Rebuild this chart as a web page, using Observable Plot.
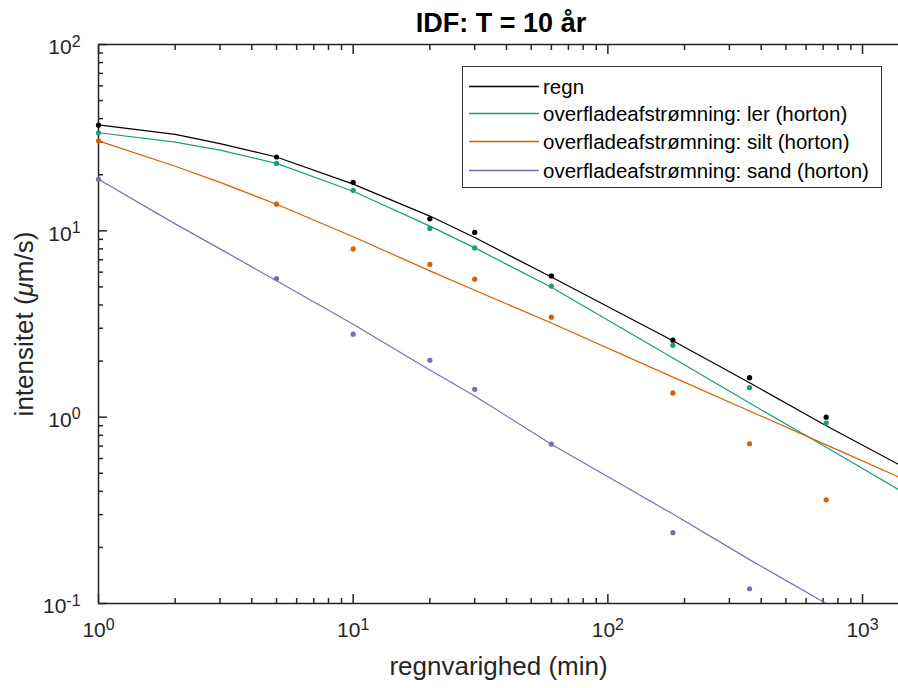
<!DOCTYPE html>
<html>
<head>
<meta charset="utf-8">
<script src="https://cdn.jsdelivr.net/npm/d3@7"></script>
<script src="https://cdn.jsdelivr.net/npm/@observablehq/plot@0.6"></script>
<style>
  html, body { margin: 0; padding: 0; background: #fff; }
  #wrap { position: relative; width: 898px; height: 688px; overflow: hidden; font-family: "Liberation Sans", Arial, sans-serif; color: #000; }
  #title { position: relative; height: 36px; }
  #title span { position: absolute; left: 98px; width: 806px; top: 10px; text-align: center; font-weight: bold; font-size: 27px; line-height: 27px; }
  #chart svg { display: block; }
  #legend { position: absolute; left: 462px; top: 66px; width: 420px; height: 122px; box-sizing: border-box; border: 1px solid #333; background: #fff; }
  #legend svg { display: block; }
</style>
</head>
<body>
<div id="wrap">
  <div id="title"><span>IDF: T = 10 år</span></div>
  <div id="chart"></div>
  <div id="legend"></div>
</div>
<script>
// ---- data ----
const seriesNames = ["regn", "overfladeafstrømning: ler (horton)", "overfladeafstrømning: silt (horton)", "overfladeafstrømning: sand (horton)"];
const seriesColors = ["#000000", "#1b9e77", "#d95f02", "#7570b3"];

// model curves
const curveDur = [1, 2, 3, 5, 10, 20, 30, 60, 180, 360, 720, 1440];
const regnCurve = [37.0, 32.9, 29.4, 24.9, 17.8, 12.0, 9.2, 5.65, 2.57, 1.53, 0.90, 0.542];
const lerCurve  = [33.6, 29.9, 27.1, 23.0, 16.3, 10.6, 8.1, 4.98, 2.08, 1.19, 0.69, 0.396];
const siltCurve = [30.4, 22.2, 18.2, 13.9, 9.3, 6.1, 4.8, 3.2, 1.64, 1.08, 0.71, 0.467];
const sandCurve = [18.9, 10.9, 8.0, 5.39, 3.15, 1.79, 1.30, 0.716, 0.302, 0.172, 0.100, 0.057];

// observed points
const obsDur = [1, 5, 10, 20, 30, 60, 180, 360, 720];
const regnObs = [36.9, 24.9, 18.2, 11.6, 9.8, 5.73, 2.59, 1.63, 1.0];
const lerObs  = [33.6, 23.0, 16.5, 10.3, 8.1, 5.05, 2.43, 1.44, 0.93];
const siltObs = [30.4, 13.9, 8.0, 6.6, 5.5, 3.44, 1.35, 0.72, 0.36];
const sandObs = [18.9, 5.55, 2.79, 2.02, 1.41, 0.716, 0.240, 0.12, null];

// axes
const xMajor = [1, 10, 100, 1000];
const xMajorLabels = ["10^0", "10^1", "10^2", "10^3"];
const yMajor = [0.1, 1, 10, 100];
const yMajorLabels = ["10^-1", "10^0", "10^1", "10^2"];
const minorMultipliers = [2, 3, 4, 5, 6, 7, 8, 9];
const xMinor = [1, 10, 100, 1000].flatMap(d => minorMultipliers.map(m => m * d)).filter(v => v < 1384);
const yMinor = [0.1, 1, 10].flatMap(d => minorMultipliers.map(m => +(m * d).toPrecision(3)));

const xLabel = "regnvarighed (min)";
const yLabel = "intensitet (µm/s)";

// ---- tables ----
const curveSets = [regnCurve, lerCurve, siltCurve, sandCurve];
const obsSets = [regnObs, lerObs, siltObs, sandObs];
const curves = seriesNames.flatMap((name, i) => curveDur.map((d, j) => ({name, x: d, y: curveSets[i][j]})));
const points = seriesNames.flatMap((name, i) => obsDur.map((d, j) => ({name, x: d, y: obsSets[i][j]}))).filter(p => p.y != null);

const axisColor = "#262626";
const fmtX = d => xMajorLabels[xMajor.indexOf(d)];
const fmtY = d => yMajorLabels[yMajor.findIndex(v => Math.abs(v - d) < 1e-9)];

const chart = Plot.plot({
  width: 898,
  height: 652,
  marginLeft: 98,
  marginRight: 0,
  marginTop: 8,
  marginBottom: 85,
  style: {fontFamily: "'Liberation Sans', Arial, sans-serif", fontSize: "21px", color: axisColor, background: "#fff", overflow: "visible"},
  x: {type: "log", domain: [1, 1384]},
  y: {type: "log", domain: [0.1, 100]},
  color: {domain: seriesNames, range: seriesColors},
  marks: [
    // frame lines
    Plot.ruleX([1], {stroke: axisColor, strokeWidth: 1.5}),
    Plot.ruleY([0.1], {stroke: axisColor, strokeWidth: 1.5}),
    Plot.ruleY([100], {stroke: axisColor, strokeWidth: 1.5}),
    // ticks (inward)
    Plot.axisX(xMajor, {anchor: "bottom", tickSize: -9, tickFormat: () => "", label: null, stroke: axisColor, strokeWidth: 1.5}),
    Plot.axisX(xMinor, {anchor: "bottom", tickSize: -5, tickFormat: () => "", label: null, stroke: axisColor, strokeWidth: 1.5}),
    Plot.axisX(xMajor, {anchor: "top", tickSize: -9, tickFormat: () => "", label: null, stroke: axisColor, strokeWidth: 1.5}),
    Plot.axisX(xMinor, {anchor: "top", tickSize: -5, tickFormat: () => "", label: null, stroke: axisColor, strokeWidth: 1.5}),
    Plot.axisY(yMajor, {anchor: "left", tickSize: -9, tickFormat: () => "", label: null, stroke: axisColor, strokeWidth: 1.5}),
    Plot.axisY(yMinor, {anchor: "left", tickSize: -5, tickFormat: () => "", label: null, stroke: axisColor, strokeWidth: 1.5}),
    // tick labels + axis labels
    Plot.axisX(xMajor, {anchor: "bottom", tickSize: 0, tickPadding: 19, tickFormat: fmtX, label: xLabel, labelAnchor: "center", labelArrow: "none", labelOffset: 71, fill: axisColor}),
    Plot.axisY(yMajor, {anchor: "left", tickSize: 0, tickPadding: 18, dy: 3, tickFormat: fmtY, label: yLabel, labelAnchor: "center", labelArrow: "none", labelOffset: 84, fill: axisColor}),
    // data
    Plot.line(curves, {x: "x", y: "y", z: "name", stroke: "name", strokeWidth: 1.2, clip: true}),
    Plot.dot(points, {x: "x", y: "y", fill: "name", r: 2.6})
  ]
});
document.getElementById("chart").appendChild(chart);

// superscript exponents in tick labels
const svg = d3.select(chart);
svg.selectAll('g[aria-label="x-axis tick label"] text, g[aria-label="y-axis tick label"] text').each(function() {
  const t = d3.select(this);
  const s = t.text();
  const parts = s.split("^");
  if (parts.length !== 2) return;
  t.text(null);
  t.append("tspan").text(parts[0]);
  t.append("tspan").attr("dy", "-0.48em").attr("font-size", "0.76em").text(parts[1]);
});
// axis labels size and italic mu
svg.selectAll('g[aria-label="x-axis label"] text').attr("font-size", 26).style("font-size", "26px");
svg.selectAll('g[aria-label="y-axis label"] text').each(function() {
  const t = d3.select(this);
  const s = t.text().replace(/[↑↓→←]\s*/g, "");
  t.style("font-size", "26px");
  const k = s.indexOf("µ");
  if (k < 0) { t.text(s); return; }
  t.text(null);
  t.append("tspan").text(s.slice(0, k));
  t.append("tspan").attr("font-style", "italic").text("μ");
  t.append("tspan").text(s.slice(k + 1));
});

// legend (inline SVG inside a bordered box)
const legendRowY = [19.5, 46.5, 74.5, 103.5];
const lsvg = d3.select("#legend").append("svg").attr("width", 418).attr("height", 120)
  .style("font-family", "'Liberation Sans', Arial, sans-serif");
seriesNames.forEach((name, i) => {
  lsvg.append("line").attr("x1", 6).attr("x2", 76).attr("y1", legendRowY[i]).attr("y2", legendRowY[i])
    .attr("stroke", seriesColors[i]).attr("stroke-width", 1.6);
  lsvg.append("text").attr("x", 80).attr("y", legendRowY[i]).attr("dy", "0.35em")
    .attr("font-size", 20.5).attr("fill", "#000").text(name);
});
</script>
</body>
</html>
